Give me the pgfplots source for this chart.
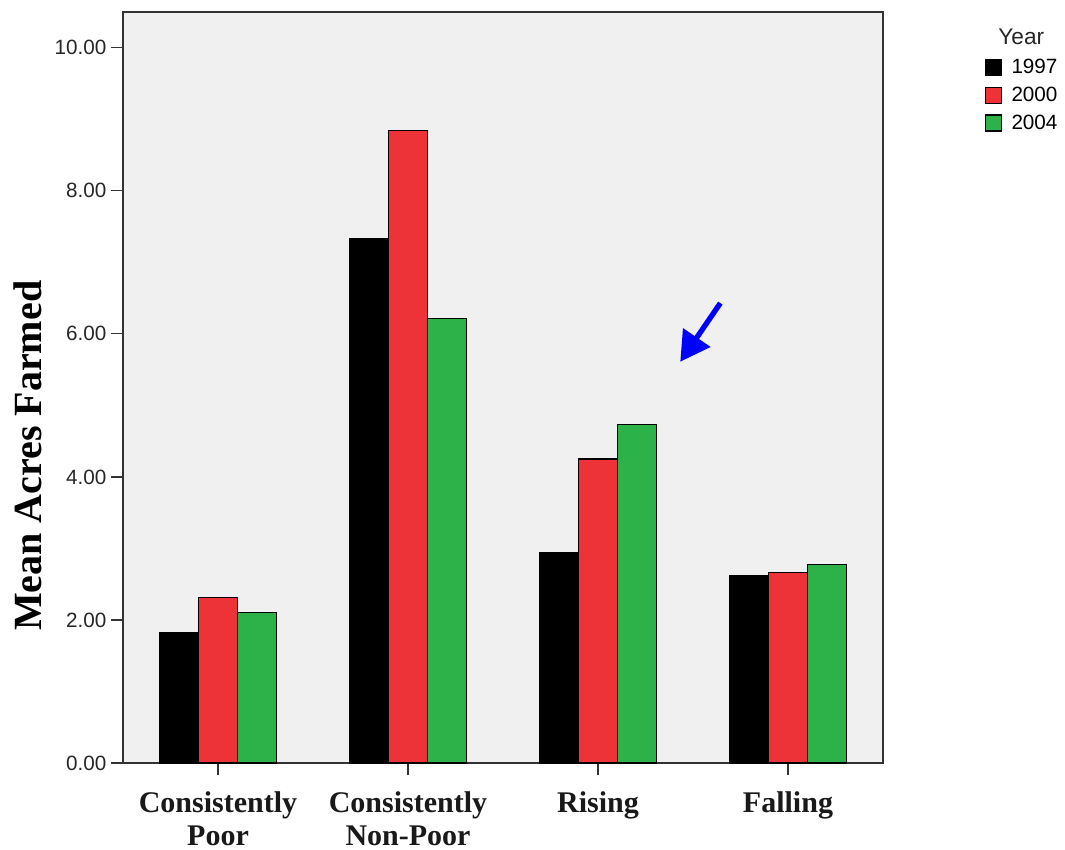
\documentclass[border=0pt]{standalone}
\usepackage{pgfplots}
\pgfplotsset{compat=1.18}
\usepackage{fontspec}
\setmainfont{Liberation Serif}
\newfontfamily\arial{Liberation Sans}
\usetikzlibrary{arrows.meta}
\definecolor{bgc}{RGB}{240,240,240}
\definecolor{cred}{RGB}{238,51,56}
\definecolor{cgreen}{RGB}{45,178,74}
\begin{document}
\begin{tikzpicture}
\useasboundingbox (-92.25pt,-65.25pt) rectangle (706.5pt,572.25pt);
\begin{axis}[
  scale only axis, width=570pt, height=563.25pt,
  xmin=-0.5, xmax=3.5, ymin=0, ymax=10.5,
  clip=false,
  axis background/.style={fill=bgc},
  axis line style={black!80, line width=0.9pt},
  ybar=0pt, bar width=0.205,
  xtick={0,1,2,3},
  xticklabels={{Consistently\\Poor},{Consistently\\Non-Poor},{Rising},{Falling}},
  xticklabel style={align=center, font=\bfseries\fontsize{22.5}{24.5}\selectfont, text=black!90, yshift=-9pt},
  ytick={0,2,4,6,8,10},
  yticklabel style={font=\arial\fontsize{15.5}{18}\selectfont, text=black!85},
  /pgf/number format/.cd, fixed, fixed zerofill, precision=2, assume math mode=true, /pgfplots/.cd,
  tick align=outside, tick pos=left, major tick length=9pt,
  tick style={black!80, line width=0.9pt},
  legend style={at={(rel axis cs:1.134,0.941)}, anchor=north west, draw=none, fill=none,
    font=\arial\fontsize{15.5}{18}\selectfont, row sep=4.5pt, column sep=5pt, inner sep=0pt,
    legend cell align=left},
]
\addplot[fill=black, draw=black, line width=0.8pt, bar shift=-0.205,
  legend image code/.code={\draw[fill=black,draw=black,line width=0.8pt] (0pt,-6pt) rectangle (12pt,6pt);}]
  coordinates {(0,1.83) (1,7.33) (2,2.94) (3,2.62)};
\addplot[fill=cred, draw=black, line width=0.8pt, bar shift=0,
  legend image code/.code={\draw[fill=cred,draw=black,line width=0.8pt] (0pt,-6pt) rectangle (12pt,6pt);}]
  coordinates {(0,2.31) (1,8.84) (2,4.25) (3,2.66)};
\addplot[fill=cgreen, draw=black, line width=0.8pt, bar shift=0.205,
  legend image code/.code={\draw[fill=cgreen,draw=black,line width=0.8pt] (0pt,-6pt) rectangle (12pt,6pt);}]
  coordinates {(0,2.10) (1,6.21) (2,4.73) (3,2.77)};
\legend{1997,2000,2004}
\draw[blue, line width=4pt, -{Triangle[length=22pt,width=24pt]}] (axis cs:2.644,6.43) -- (axis cs:2.433,5.61);
\node[rotate=90, font=\bfseries\fontsize{30}{34}\selectfont] at (rel axis cs:-0.125,0.409) {Mean Acres Farmed};
\node[font=\arial\fontsize{17}{20}\selectfont, text=black!85] at (rel axis cs:1.182,0.967) {Year};
\end{axis}
\end{tikzpicture}
\end{document}
